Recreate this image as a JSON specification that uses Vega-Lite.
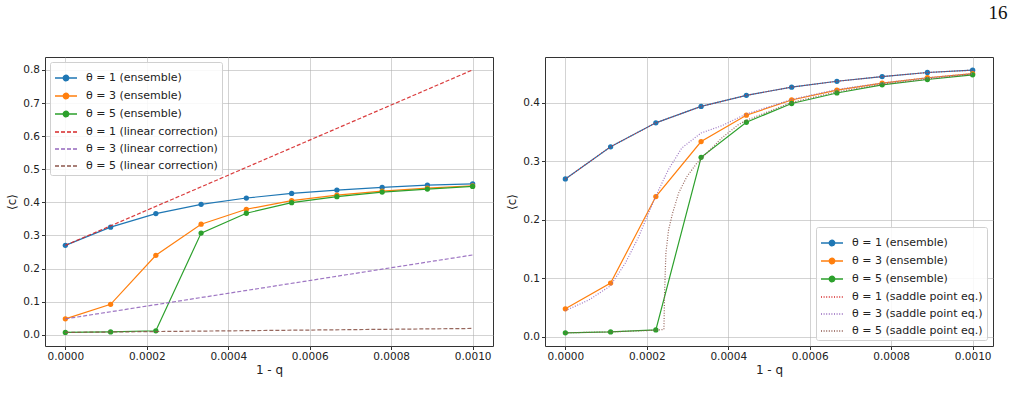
{
  "$schema": "https://vega.github.io/schema/vega-lite/v6.json",
  "padding": {"left": 5, "top": 3, "right": 5, "bottom": 5},
  "background": "white",
  "title": {"text": "16", "anchor": "end", "font": "Liberation Serif", "fontSize": 19, "fontWeight": "normal", "color": "#111", "offset": 34, "dx": 14},
  "config": {
    "view": {"stroke": "#333", "strokeWidth": 1},
    "axis": {"labelFont": "DejaVu Sans", "labelFontSize": 10.5, "labelColor": "#222", "tickColor": "#333", "tickSize": 3.5, "labelPadding": 2, "titleFont": "DejaVu Sans", "titleFontSize": 12, "titleFontWeight": "normal", "titleColor": "#222", "gridColor": "#b0b0b0", "gridOpacity": 0.7, "gridWidth": 0.8, "domain": false},
    "legend": {"labelFont": "DejaVu Sans", "labelFontSize": 11, "labelColor": "#222", "fillColor": "rgba(255,255,255,0.85)", "strokeColor": "#d0d0d0", "cornerRadius": 2, "padding": 4, "symbolSize": 484, "symbolStrokeWidth": 1.5, "labelOffset": 8, "rowPadding": -7.8}
  },
  "datasets": {
    "ens": [
      {"x": 0, "y": 0.270, "series": "θ = 1 (ensemble)"},
      {"x": 0.0001111, "y": 0.325, "series": "θ = 1 (ensemble)"},
      {"x": 0.0002222, "y": 0.366, "series": "θ = 1 (ensemble)"},
      {"x": 0.0003333, "y": 0.394, "series": "θ = 1 (ensemble)"},
      {"x": 0.0004444, "y": 0.413, "series": "θ = 1 (ensemble)"},
      {"x": 0.0005556, "y": 0.427, "series": "θ = 1 (ensemble)"},
      {"x": 0.0006667, "y": 0.437, "series": "θ = 1 (ensemble)"},
      {"x": 0.0007778, "y": 0.445, "series": "θ = 1 (ensemble)"},
      {"x": 0.0008889, "y": 0.452, "series": "θ = 1 (ensemble)"},
      {"x": 0.001, "y": 0.456, "series": "θ = 1 (ensemble)"},
      {"x": 0, "y": 0.048, "series": "θ = 3 (ensemble)"},
      {"x": 0.0001111, "y": 0.092, "series": "θ = 3 (ensemble)"},
      {"x": 0.0002222, "y": 0.240, "series": "θ = 3 (ensemble)"},
      {"x": 0.0003333, "y": 0.334, "series": "θ = 3 (ensemble)"},
      {"x": 0.0004444, "y": 0.379, "series": "θ = 3 (ensemble)"},
      {"x": 0.0005556, "y": 0.405, "series": "θ = 3 (ensemble)"},
      {"x": 0.0006667, "y": 0.422, "series": "θ = 3 (ensemble)"},
      {"x": 0.0007778, "y": 0.434, "series": "θ = 3 (ensemble)"},
      {"x": 0.0008889, "y": 0.443, "series": "θ = 3 (ensemble)"},
      {"x": 0.001, "y": 0.450, "series": "θ = 3 (ensemble)"},
      {"x": 0, "y": 0.007, "series": "θ = 5 (ensemble)"},
      {"x": 0.0001111, "y": 0.0085, "series": "θ = 5 (ensemble)"},
      {"x": 0.0002222, "y": 0.012, "series": "θ = 5 (ensemble)"},
      {"x": 0.0003333, "y": 0.307, "series": "θ = 5 (ensemble)"},
      {"x": 0.0004444, "y": 0.367, "series": "θ = 5 (ensemble)"},
      {"x": 0.0005556, "y": 0.399, "series": "θ = 5 (ensemble)"},
      {"x": 0.0006667, "y": 0.417, "series": "θ = 5 (ensemble)"},
      {"x": 0.0007778, "y": 0.431, "series": "θ = 5 (ensemble)"},
      {"x": 0.0008889, "y": 0.440, "series": "θ = 5 (ensemble)"},
      {"x": 0.001, "y": 0.448, "series": "θ = 5 (ensemble)"}
    ],
    "lin": [
      {"x": 0, "y": 0.270, "series": "θ = 1 (linear correction)"},
      {"x": 0.001, "y": 0.800, "series": "θ = 1 (linear correction)"},
      {"x": 0, "y": 0.048, "series": "θ = 3 (linear correction)"},
      {"x": 0.001, "y": 0.241, "series": "θ = 3 (linear correction)"},
      {"x": 0, "y": 0.007, "series": "θ = 5 (linear correction)"},
      {"x": 0.001, "y": 0.019, "series": "θ = 5 (linear correction)"}
    ],
    "sad": [
      {"x": 0, "y": 0.270, "series": "θ = 1 (saddle point eq.)"},
      {"x": 0.0001111, "y": 0.325, "series": "θ = 1 (saddle point eq.)"},
      {"x": 0.0002222, "y": 0.366, "series": "θ = 1 (saddle point eq.)"},
      {"x": 0.0003333, "y": 0.394, "series": "θ = 1 (saddle point eq.)"},
      {"x": 0.0004444, "y": 0.413, "series": "θ = 1 (saddle point eq.)"},
      {"x": 0.0005556, "y": 0.427, "series": "θ = 1 (saddle point eq.)"},
      {"x": 0.0006667, "y": 0.437, "series": "θ = 1 (saddle point eq.)"},
      {"x": 0.0007778, "y": 0.445, "series": "θ = 1 (saddle point eq.)"},
      {"x": 0.0008889, "y": 0.452, "series": "θ = 1 (saddle point eq.)"},
      {"x": 0.001, "y": 0.456, "series": "θ = 1 (saddle point eq.)"},
      {"x": 0, "y": 0.045, "series": "θ = 3 (saddle point eq.)"},
      {"x": 0.0000573, "y": 0.063, "series": "θ = 3 (saddle point eq.)"},
      {"x": 0.00011, "y": 0.087, "series": "θ = 3 (saddle point eq.)"},
      {"x": 0.000147, "y": 0.126, "series": "θ = 3 (saddle point eq.)"},
      {"x": 0.00018, "y": 0.171, "series": "θ = 3 (saddle point eq.)"},
      {"x": 0.000203, "y": 0.210, "series": "θ = 3 (saddle point eq.)"},
      {"x": 0.000229, "y": 0.251, "series": "θ = 3 (saddle point eq.)"},
      {"x": 0.000253, "y": 0.286, "series": "θ = 3 (saddle point eq.)"},
      {"x": 0.000286, "y": 0.323, "series": "θ = 3 (saddle point eq.)"},
      {"x": 0.000333, "y": 0.3485, "series": "θ = 3 (saddle point eq.)"},
      {"x": 0.000384, "y": 0.361, "series": "θ = 3 (saddle point eq.)"},
      {"x": 0.000444, "y": 0.381, "series": "θ = 3 (saddle point eq.)"},
      {"x": 0.000556, "y": 0.406, "series": "θ = 3 (saddle point eq.)"},
      {"x": 0.000667, "y": 0.423, "series": "θ = 3 (saddle point eq.)"},
      {"x": 0.000778, "y": 0.434, "series": "θ = 3 (saddle point eq.)"},
      {"x": 0.000889, "y": 0.443, "series": "θ = 3 (saddle point eq.)"},
      {"x": 0.001, "y": 0.450, "series": "θ = 3 (saddle point eq.)"},
      {"x": 0, "y": 0.007, "series": "θ = 5 (saddle point eq.)"},
      {"x": 0.000111, "y": 0.0086, "series": "θ = 5 (saddle point eq.)"},
      {"x": 0.000222, "y": 0.0115, "series": "θ = 5 (saddle point eq.)"},
      {"x": 0.000242, "y": 0.0127, "series": "θ = 5 (saddle point eq.)"},
      {"x": 0.0002436, "y": 0.074, "series": "θ = 5 (saddle point eq.)"},
      {"x": 0.0002468, "y": 0.143, "series": "θ = 5 (saddle point eq.)"},
      {"x": 0.0002534, "y": 0.183, "series": "θ = 5 (saddle point eq.)"},
      {"x": 0.0002632, "y": 0.2115, "series": "θ = 5 (saddle point eq.)"},
      {"x": 0.000278, "y": 0.2458, "series": "θ = 5 (saddle point eq.)"},
      {"x": 0.0002983, "y": 0.274, "series": "θ = 5 (saddle point eq.)"},
      {"x": 0.0003228, "y": 0.297, "series": "θ = 5 (saddle point eq.)"},
      {"x": 0.0003515, "y": 0.317, "series": "θ = 5 (saddle point eq.)"},
      {"x": 0.000384, "y": 0.340, "series": "θ = 5 (saddle point eq.)"},
      {"x": 0.000425, "y": 0.363, "series": "θ = 5 (saddle point eq.)"},
      {"x": 0.000444, "y": 0.370, "series": "θ = 5 (saddle point eq.)"},
      {"x": 0.000556, "y": 0.401, "series": "θ = 5 (saddle point eq.)"},
      {"x": 0.000667, "y": 0.419, "series": "θ = 5 (saddle point eq.)"},
      {"x": 0.000778, "y": 0.432, "series": "θ = 5 (saddle point eq.)"},
      {"x": 0.000889, "y": 0.441, "series": "θ = 5 (saddle point eq.)"},
      {"x": 0.001, "y": 0.449, "series": "θ = 5 (saddle point eq.)"}
    ]
  },
  "spacing": 11,
  "resolve": {"scale": {"color": "independent", "strokeDash": "independent", "x": "independent", "y": "independent"}, "legend": {"color": "independent", "strokeDash": "independent"}},
  "hconcat": [
    {
      "width": 448,
      "height": 289,
      "encoding": {
        "x": {"field": "x", "type": "quantitative", "title": "1 - q", "scale": {"domain": [-0.00005, 0.00105], "nice": false, "zero": false}, "axis": {"values": [0, 0.0002, 0.0004, 0.0006, 0.0008, 0.001], "format": ".4f", "titlePadding": 2}},
        "y": {"field": "y", "type": "quantitative", "title": "⟨c⟩", "scale": {"domain": [-0.034, 0.839], "nice": false, "zero": false}, "axis": {"values": [0, 0.1, 0.2, 0.3, 0.4, 0.5, 0.6, 0.7, 0.8], "format": ".1f", "titlePadding": 4}}
      },
      "layer": [
        {
          "data": {"name": "ens"},
          "mark": {"type": "line", "strokeWidth": 1.2, "point": {"filled": true, "size": 28, "opacity": 1}},
          "encoding": {
            "color": {"field": "series", "type": "nominal",
              "scale": {"domain": ["θ = 1 (ensemble)", "θ = 3 (ensemble)", "θ = 5 (ensemble)", "θ = 1 (linear correction)", "θ = 3 (linear correction)", "θ = 5 (linear correction)"], "range": ["#1f77b4", "#ff7f0e", "#2ca02c", "#d62728", "#9467bd", "#8c564b"]},
              "legend": {"title": null, "orient": "top-left", "offset": 5,
                "encode": {"symbols": {"update": {
                  "shape": {"signal": "indexof(datum.value, 'ensemble') >= 0 ? 'M-1,0L1,0M0.24,0A0.24,0.24,0,1,1,-0.24,0A0.24,0.24,0,1,1,0.24,0Z' : 'stroke'"},
                  "fill": {"signal": "indexof(datum.value, 'θ = 1') >= 0 ? '#1f77b4' : indexof(datum.value, 'θ = 3') >= 0 ? '#ff7f0e' : '#2ca02c'"},
                  "fillOpacity": {"value": 1},
                  "strokeDash": {"signal": "indexof(datum.value, 'linear') >= 0 ? [4, 2] : [1, 0]"},
                  "opacity": {"value": 1}
                }}}}}
          }
        },
        {
          "data": {"name": "lin"},
          "mark": {"type": "line", "strokeWidth": 1.2, "strokeDash": [4, 2], "opacity": 0.9},
          "encoding": {
            "color": {"field": "series", "type": "nominal"}
          }
        }
      ]
    },
    {
      "width": 448,
      "height": 289,
      "encoding": {
        "x": {"field": "x", "type": "quantitative", "title": "1 - q", "scale": {"domain": [-0.00005, 0.00105], "nice": false, "zero": false}, "axis": {"values": [0, 0.0002, 0.0004, 0.0006, 0.0008, 0.001], "format": ".4f", "titlePadding": 2}},
        "y": {"field": "y", "type": "quantitative", "title": "⟨c⟩", "scale": {"domain": [-0.0155, 0.4785], "nice": false, "zero": false}, "axis": {"values": [0, 0.1, 0.2, 0.3, 0.4], "format": ".1f", "titlePadding": 4}}
      },
      "layer": [
        {
          "data": {"name": "ens"},
          "mark": {"type": "line", "strokeWidth": 1.2, "point": {"filled": true, "size": 28, "opacity": 1}},
          "encoding": {
            "color": {"field": "series", "type": "nominal",
              "scale": {"domain": ["θ = 1 (ensemble)", "θ = 3 (ensemble)", "θ = 5 (ensemble)", "θ = 1 (saddle point eq.)", "θ = 3 (saddle point eq.)", "θ = 5 (saddle point eq.)"], "range": ["#1f77b4", "#ff7f0e", "#2ca02c", "#d62728", "#9467bd", "#8c564b"]},
              "legend": {"title": null, "orient": "bottom-right", "offset": 6,
                "encode": {"symbols": {"update": {
                  "shape": {"signal": "indexof(datum.value, 'ensemble') >= 0 ? 'M-1,0L1,0M0.24,0A0.24,0.24,0,1,1,-0.24,0A0.24,0.24,0,1,1,0.24,0Z' : 'stroke'"},
                  "fill": {"signal": "indexof(datum.value, 'θ = 1') >= 0 ? '#1f77b4' : indexof(datum.value, 'θ = 3') >= 0 ? '#ff7f0e' : '#2ca02c'"},
                  "fillOpacity": {"value": 1},
                  "strokeDash": {"signal": "indexof(datum.value, 'saddle') >= 0 ? [1, 1.6] : [1, 0]"},
                  "opacity": {"value": 1}
                }}}}}
          }
        },
        {
          "data": {"name": "sad"},
          "mark": {"type": "line", "strokeWidth": 1.2, "strokeDash": [1, 1.6], "opacity": 0.9},
          "encoding": {
            "color": {"field": "series", "type": "nominal"}
          }
        }
      ]
    }
  ]
}
